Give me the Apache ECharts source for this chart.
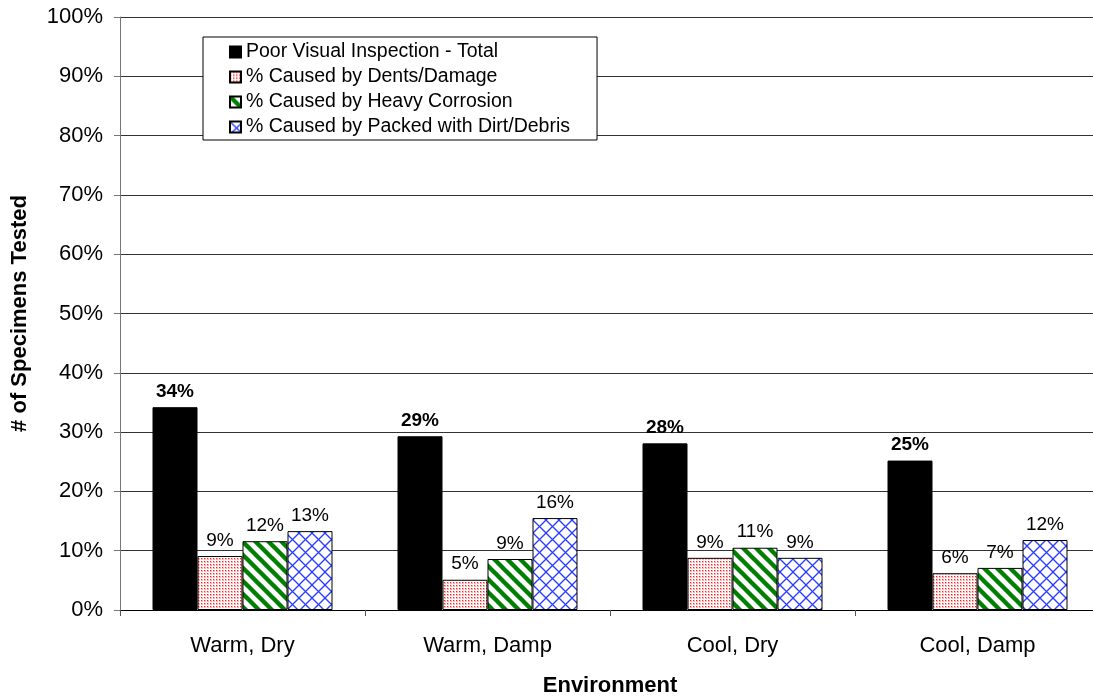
<!DOCTYPE html>
<html>
<head>
<meta charset="utf-8">
<script src="https://cdn.jsdelivr.net/npm/echarts@6/dist/echarts.min.js"></script>
<style>
  html, body { margin: 0; padding: 0; background: #fff; overflow: hidden; }
  #chart { width: 1093px; height: 696px; }
</style>
</head>
<body>
<div id="chart"></div>
<script>
// Environments and share of specimens (percent) by cause of poor visual inspection
const categories = ['Warm, Dry', 'Warm, Damp', 'Cool, Dry', 'Cool, Damp'];
const seriesNames = [
  'Poor Visual Inspection - Total',
  '% Caused by Dents/Damage',
  '% Caused by Heavy Corrosion',
  '% Caused by Packed with Dirt/Debris'
];
const totalValues = [34.2, 29.3, 28.1, 25.2];
const dentValues = [9.1, 5.1, 8.8, 6.2];
const corrosionValues = [11.6, 8.6, 10.5, 7.1];
const debrisValues = [13.3, 15.5, 8.8, 11.8];
const yTickValues = [0, 10, 20, 30, 40, 50, 60, 70, 80, 90, 100];

// Fill patterns drawn on small tiles
function tile(size, draw) {
  const c = document.createElement('canvas');
  c.width = size; c.height = size;
  const ctx = c.getContext('2d');
  ctx.fillStyle = '#fff';
  ctx.fillRect(0, 0, size, size);
  draw(ctx, size);
  return c;
}
const dotTile = tile(3, (ctx) => {
  ctx.fillStyle = '#ffb0b0';
  ctx.fillRect(0, 0, 2, 2);
  ctx.fillStyle = '#ff2020';
  ctx.fillRect(0, 0, 1, 1);
});
const stripeTile = tile(13, (ctx, s) => {
  ctx.strokeStyle = '#008000';
  ctx.lineWidth = 4.4;
  for (let k = -1; k <= 1; k++) {
    ctx.beginPath();
    ctx.moveTo(k * s - 2, -2);
    ctx.lineTo(k * s + s + 2, s + 2);
    ctx.stroke();
  }
});
const crossTile = tile(13, (ctx, s) => {
  ctx.strokeStyle = '#2a3cff';
  ctx.lineWidth = 1.3;
  for (let k = -1; k <= 1; k++) {
    ctx.beginPath();
    ctx.moveTo(k * s - 2, -2);
    ctx.lineTo(k * s + s + 2, s + 2);
    ctx.stroke();
    ctx.beginPath();
    ctx.moveTo(k * s + s + 2, -2);
    ctx.lineTo(k * s - 2, s + 2);
    ctx.stroke();
  }
});

const font = 'Arial, "Liberation Sans", sans-serif';
const fmt = (p) => Math.round(p.value) + '%';

function barSeries(name, data, fill, bold) {
  return {
    name: name,
    type: 'bar',
    data: data,
    barWidth: 45,
    barGap: '0%',
    itemStyle: { color: fill, borderColor: '#000', borderWidth: 1 },
    label: {
      show: true,
      position: 'top',
      distance: 6,
      formatter: fmt,
      color: '#000',
      fontFamily: font,
      fontSize: 19,
      fontWeight: bold ? 'bold' : 'normal'
    }
  };
}

const chart = echarts.init(document.getElementById('chart'), null, { renderer: 'canvas' });
chart.setOption({
  animation: false,
  backgroundColor: '#fff',
  grid: {
    left: 120, right: -7, top: 17, bottom: 86,
    containLabel: false,
    outerBoundsMode: 'none'
  },
  legend: {
    orient: 'vertical',
    left: 203,
    top: 37,
    padding: [5, 27, 3, 26],
    itemWidth: 11,
    itemHeight: 11,
    itemGap: 5,
    icon: 'rect',
    borderColor: '#000',
    borderWidth: 1,
    backgroundColor: '#fff',
    textStyle: { fontFamily: font, fontSize: 19.5, color: '#000', lineHeight: 20 },
    data: seriesNames
  },
  xAxis: {
    type: 'category',
    data: categories,
    name: 'Environment',
    nameLocation: 'middle',
    nameGap: 65,
    nameTextStyle: { fontFamily: font, fontSize: 22, fontWeight: 'bold', color: '#000' },
    axisLine: { lineStyle: { color: '#000', width: 1 } },
    axisTick: { show: true, alignWithLabel: false, interval: 0, length: 6, lineStyle: { color: '#555' } },
    axisLabel: { margin: 25, fontFamily: font, fontSize: 22, color: '#000' },
    splitLine: { show: false }
  },
  yAxis: {
    type: 'value',
    min: yTickValues[0],
    max: yTickValues[yTickValues.length - 1],
    interval: 10,
    name: '# of Specimens Tested',
    nameLocation: 'middle',
    nameGap: 89,
    nameTextStyle: { fontFamily: font, fontSize: 22, fontWeight: 'bold', color: '#000' },
    axisLine: { show: true, lineStyle: { color: '#777', width: 1 } },
    axisTick: { show: true, length: 6, lineStyle: { color: '#777' } },
    axisLabel: { margin: 17, fontFamily: font, fontSize: 22, color: '#000', formatter: '{value}%' },
    splitLine: { show: true, lineStyle: { color: '#333', width: 1 } }
  },
  series: [
    barSeries(seriesNames[0], totalValues, '#000', true),
    barSeries(seriesNames[1], dentValues, { image: dotTile, repeat: 'repeat' }, false),
    barSeries(seriesNames[2], corrosionValues, { image: stripeTile, repeat: 'repeat' }, false),
    barSeries(seriesNames[3], debrisValues, { image: crossTile, repeat: 'repeat' }, false)
  ]
});
</script>
</body>
</html>
